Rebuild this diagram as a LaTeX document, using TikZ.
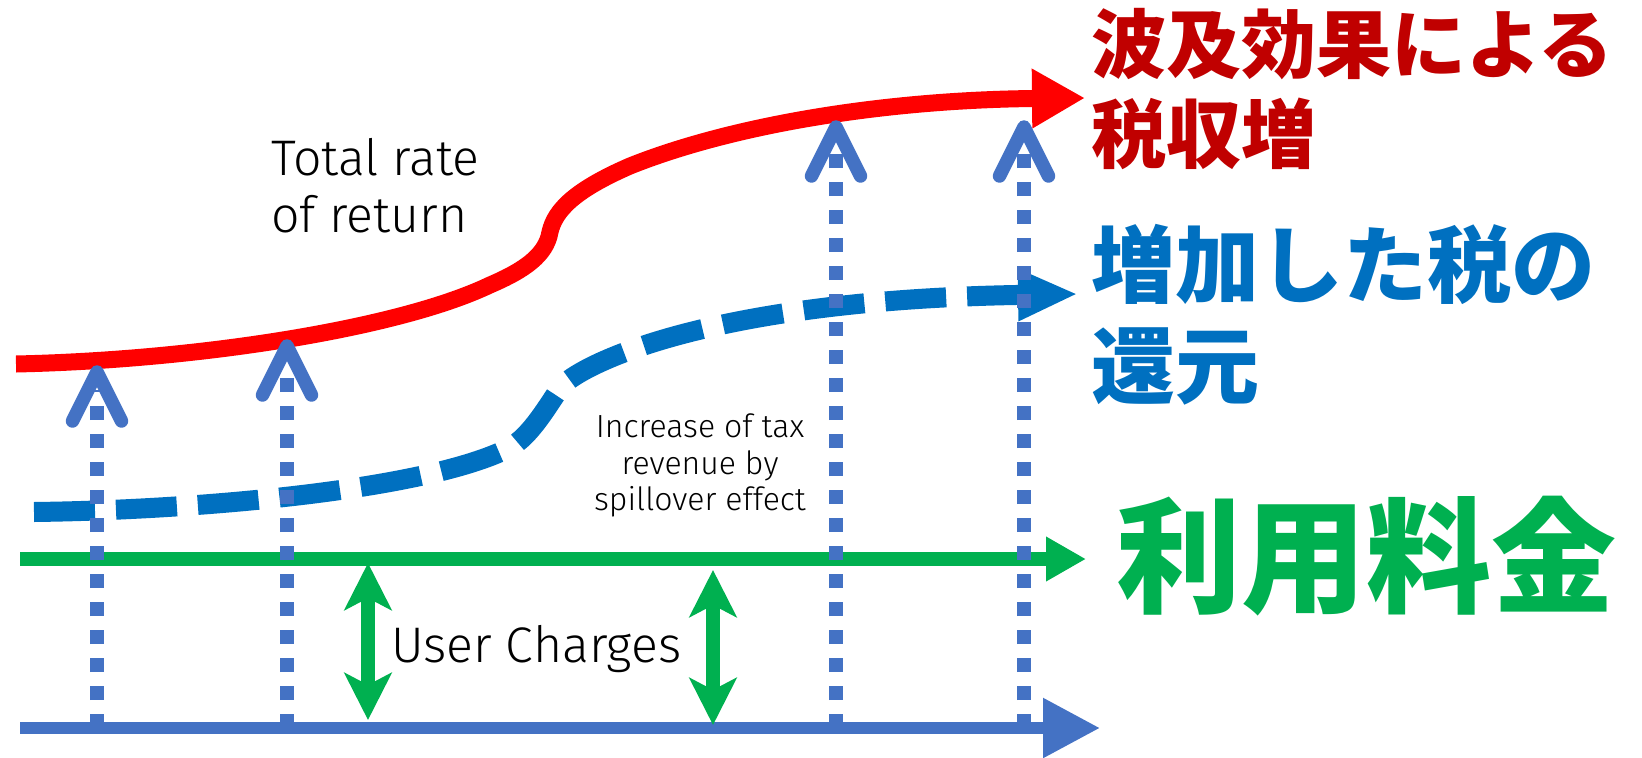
\documentclass[tikz,border=0pt]{standalone}
\usepackage{fontspec}
\usetikzlibrary{arrows.meta,calc}
\newfontfamily\jpfont{Noto Sans CJK JP}
\newfontfamily\enfont{Fira Sans Light}
\definecolor{cRed}{HTML}{FF0000}
\definecolor{cDarkRed}{HTML}{C00000}
\definecolor{cBlue}{HTML}{0070C0}
\definecolor{cGreen}{HTML}{00B050}
\definecolor{cAxis}{HTML}{4472C4}
\tikzset{
  every node/.style={inner sep=0pt, outer sep=0pt},
  redcurve/.style={draw=cRed, line width=17pt, -{Triangle[length=53pt,width=56pt]}},
  bluecurve/.style={draw=cBlue, line width=20pt, dash pattern=on 61pt off 21pt, -{Triangle[length=60pt,width=48pt]}},
  greenline/.style={draw=cGreen, line width=14pt, -{Triangle[length=40pt,width=42pt]}},
  axisline/.style={draw=cAxis, line width=12pt, -{Triangle[length=57pt,width=57pt]}},
  charge/.style={draw=cGreen, line width=14pt, {Stealth[length=47pt,width=47pt,inset=12pt]}-{Stealth[length=47pt,width=47pt,inset=12pt]}},
  dotv/.style={draw=cAxis, line width=14pt, dash pattern=on 14pt off 14pt},
  chev/.style={draw=cAxis, line width=13.5pt, line cap=round, line join=round},
  enbig/.style={font=\enfont\fontsize{50pt}{57pt}\selectfont, text=black},
  ensmall/.style={font=\enfont\fontsize{32pt}{37pt}\selectfont, text=black},
  jpred/.style={font=\jpfont\bfseries\fontsize{75pt}{90pt}\selectfont, text=cDarkRed, anchor=west},
  jpblue/.style={font=\jpfont\bfseries\fontsize{84pt}{100pt}\selectfont, text=cBlue, anchor=west},
  jpgreen/.style={font=\jpfont\bfseries\fontsize{125pt}{140pt}\selectfont, text=cGreen, anchor=west},
}
\begin{document}
\begin{tikzpicture}[x=1pt, y=-1pt]
\useasboundingbox (0,0) rectangle (1642,758);
% key coordinates
\coordinate (rs) at (16,364);
\coordinate (re) at (1085,98);
\coordinate (bs) at (34,512);
\coordinate (be) at (1078,294);
\coordinate (gs) at (20,559);
\coordinate (ge) at (1086,559);
\coordinate (as) at (20,728);
\coordinate (ae) at (1100,728);
% red curve
\draw[redcurve] (rs) .. controls (200,360) and (400,328) .. (490,285)
  .. controls (525,270) and (546,255) .. (550,232)
  .. controls (555,210) and (575,190) .. (630,166)
  .. controls (730,126) and (880,100) .. (re);
% blue dashed curve
\draw[bluecurve] (bs) .. controls (200,510) and (420,490) .. (505,450)
  .. controls (528,440) and (545,410) .. (560,388)
  .. controls (575,368) and (700,300) .. (be);
% green line and axis
\draw[greenline] (gs) -- (ge);
\draw[axisline] (as) -- (ae);
% user charges arrows
\coordinate (c1t) at (368,563);
\coordinate (c1b) at (368,720);
\coordinate (c2t) at (713,570);
\coordinate (c2b) at (713,725);
\draw[charge] (c1t) -- (c1b);
\draw[charge] (c2t) -- (c2b);
% dotted vertical arrows
\foreach \i/\x/\y in {1/97/372, 2/287/346, 3/836/127, 4/1024/127}{
  \coordinate (t\i) at (\x,\y);
  \coordinate (b\i) at (\x,728);
  \draw[dotv] (b\i) -- ($(t\i)+(0,18)$);
  \draw[chev] ($(t\i)+(-24.5,49)$) -- (t\i) -- ($(t\i)+(24.5,49)$);
}
% texts
\node[enbig, anchor=base west] (tr1) at (271,175) {Total rate};
\node[enbig, anchor=base west] (tr2) at (271,232) {of return};
\node[ensmall, anchor=base] (inc1) at (700,437) {Increase of tax};
\node[ensmall, anchor=base] (inc2) at (700,474) {revenue by};
\node[ensmall, anchor=base] (inc3) at (700,510) {spillover effect};
\node[enbig, anchor=base west] (uc) at (391,662) {User Charges};
\node[jpred] (r1) at (1091,44) {波及効果による};
\node[jpred] (r2) at (1091,134) {税収増};
\node[jpblue] (bl1) at (1091,264) {増加した税の};
\node[jpblue] (bl2) at (1091,366) {還元};
\node[jpgreen] (gr) at (1116,556) {利用料金};
\end{tikzpicture}
\end{document}
